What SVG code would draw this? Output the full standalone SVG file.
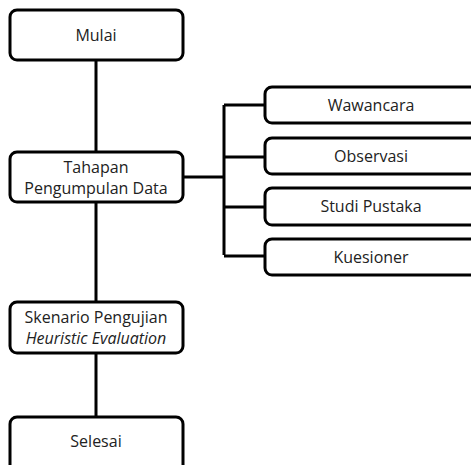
<svg xmlns="http://www.w3.org/2000/svg" width="471" height="465" viewBox="0 0 471 465">
<style>
.box{fill:#fff;stroke:#000;stroke-width:3}
.ln{fill:none;stroke:#000;stroke-width:3}
text{font-family:"Open Sans","Liberation Sans",sans-serif;font-size:16px;fill:#222;text-anchor:middle}
.it{font-style:italic}
</style>
<rect width="471" height="465" fill="#fff"/>
<g id="connectors">
<path class="ln" d="M96 60V152M96 202V302M96 353V417M183 177H224M224 105V255M224 105H265M224 157H265M224 207H265M224 256H265"/>
</g>
<g id="mulai"><rect class="box" x="10" y="10" width="173" height="50" rx="7"/><text x="96" y="41">Mulai</text></g>
<g id="tahapan"><rect class="box" x="10" y="152" width="173" height="50" rx="7"/><text x="96" y="173">Tahapan</text><text x="96" y="194">Pengumpulan Data</text></g>
<g id="wawancara"><rect class="box" x="265" y="87" width="215" height="36" rx="7"/><text x="371" y="111">Wawancara</text></g>
<g id="observasi"><rect class="box" x="265" y="138" width="215" height="36" rx="7"/><text x="371" y="162">Observasi</text></g>
<g id="studi"><rect class="box" x="265" y="188" width="215" height="37" rx="7"/><text x="371" y="212">Studi Pustaka</text></g>
<g id="kuesioner"><rect class="box" x="265" y="239" width="215" height="36" rx="7"/><text x="371" y="263">Kuesioner</text></g>
<g id="skenario"><rect class="box" x="10" y="302" width="173" height="51" rx="7"/><text x="96" y="323">Skenario Pengujian</text><text class="it" x="96" y="344">Heuristic Evaluation</text></g>
<g id="selesai"><rect class="box" x="10" y="417" width="173" height="60" rx="7"/><text x="96" y="447">Selesai</text></g>
</svg>
